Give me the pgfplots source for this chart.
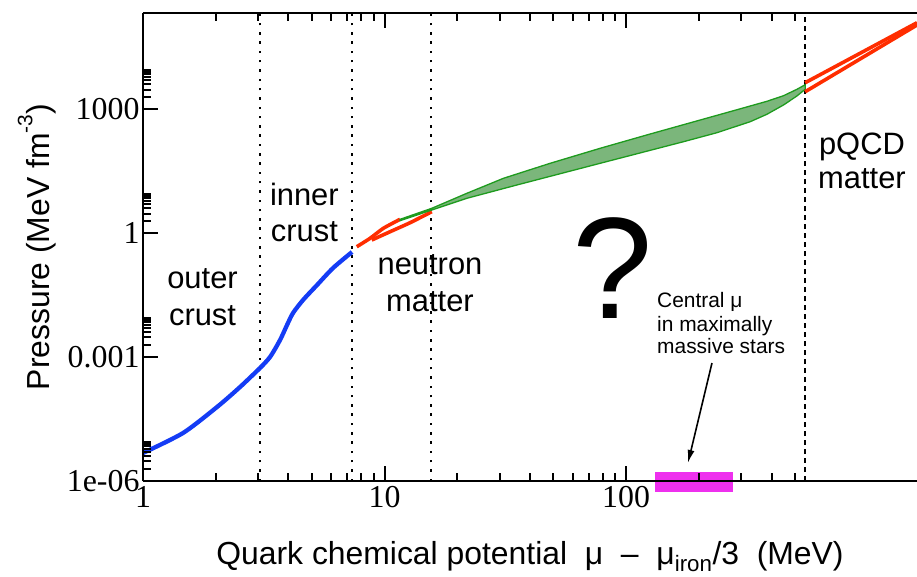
\documentclass[border=0pt]{standalone}
\usepackage{fontspec}
\setmainfont{Liberation Sans}
\newfontfamily\seriffont{Liberation Serif}
\usepackage{pgfplots}
\pgfplotsset{compat=1.18}
\usetikzlibrary{arrows.meta}
\definecolor{cblue}{RGB}{20,60,245}
\definecolor{cred}{RGB}{255,45,0}
\definecolor{gfill}{RGB}{123,182,123}
\definecolor{gedge}{RGB}{30,155,30}
\definecolor{cmag}{RGB}{238,48,238}
\newcommand{\regionfont}{\fontsize{31}{36}\selectfont}
\newcommand{\labfont}{\fontsize{32}{36}\selectfont}
\begin{document}
\begin{tikzpicture}
\begin{axis}[
  xmode=log, ymode=log,
  scale only axis, width=774bp, height=468bp,
  xmin=1, xmax=1600, ymin=1e-6, ymax=2.15e5,
  axis on top, clip=false,
  separate axis lines,
  axis x line=box, axis y line=left,
  x axis line style={-}, y axis line style={-},
  axis line style={line width=2.5bp},
  tick align=inside,
  xtick={1,10,100}, xticklabels={1,10,100},
  minor xtick={2,3,4,5,6,7,8,9,20,30,40,50,60,70,80,90,200,300,400,500},
  ytick={1e-6,1e-3,1,1000}, yticklabels={1e-06,0.001,1,1000},
  minor ytick={2e-6,3e-6,4e-6,5e-6,6e-6,7e-6,8e-6,9e-6,
               2e-3,3e-3,4e-3,5e-3,6e-3,7e-3,8e-3,9e-3,
               2,3,4,5,6,7,8,9,
               2000,3000,4000,5000,6000,7000,8000,9000},
  major tick length=15bp, minor tick length=8bp,
  every tick/.style={black, line width=2bp},
  tick label style={font=\seriffont\fontsize{32}{32}\selectfont},
  xticklabel style={yshift=-1.5bp},
  /pgf/number format/assume math mode=true,
]
\coordinate (SW) at (rel axis cs:0,0);
\coordinate (NE) at (rel axis cs:1,1);

% region boundaries
\draw[black, line width=2.5bp, dash pattern=on 2.5bp off 6.8bp] (axis cs:3.051,1e-6) -- (axis cs:3.051,2.15e5);
\draw[black, line width=2.5bp, dash pattern=on 2.5bp off 6.8bp] (axis cs:7.335,1e-6) -- (axis cs:7.335,2.15e5);
\draw[black, line width=2.5bp, dash pattern=on 2.5bp off 6.8bp] (axis cs:15.58,1e-6) -- (axis cs:15.58,2.15e5);
\draw[black, line width=2.5bp, dash pattern=on 5bp off 4bp] (axis cs:551,1e-6) -- (axis cs:551,2.15e5);

% crust (blue)
\addplot[cblue, line width=4.3bp, smooth, tension=0.45, line join=round] coordinates {
(1,4.77e-6) (1.464,1.452e-5) (2.025,6.19e-5) (2.522,1.888e-4) (3.051,5.44e-4)};
\addplot[cblue, line width=4.3bp, smooth, tension=0.45, line join=round] coordinates {
(3.051,5.44e-4) (3.357,1.005e-3) (3.693,2.594e-3) (3.947,5.98e-3) (4.179,1.17e-2) (4.598,2.415e-2)
(5.254,5.57e-2) (6.119,0.1435) (7.335,0.3508)};

% neutron matter (red)
\addplot[cred, line width=3.6bp, smooth, tension=0.4] coordinates {
(7.672,0.471) (8.71,0.753) (9.886,1.315) (11.59,2.171)};
\addplot[cred, line width=3.6bp, smooth, tension=0.4] coordinates {
(8.85,0.684) (10.54,1.087) (12.75,1.795) (15.68,3.319)};

% interpolated band (green)
\addplot[fill=gfill, draw=gedge, line width=1.3bp, line join=round] coordinates {
(11.59,2.171) (15.68,4.009) (21.90,9.25) (31.04,21.35) (48.44,49.26) (78.03,113.7)
(125.7,252.3) (202.5,550.7) (278.1,924.9) (382.4,1562) (448.0,2133) (509.1,3051) (551.0,3940)
(551.0,3051) (509.1,2099) (448.0,1271) (382.4,756.8) (326.2,501.0) (237.5,271.3) (172.7,164.3) (78.03,49.26)
(35.27,14.69) (21.90,7.0) (15.68,3.645) (11.59,2.008)} -- cycle;

% pQCD (red)
\addplot[cred, line width=3.6bp] coordinates {(551,4406) (1600,1.25e5)};
\addplot[cred, line width=3.6bp] coordinates {(551,2667) (1600,1.099e5)};

% central mu range
\addplot[fill=cmag, draw=none] coordinates {
(131.8,5.42e-7) (277.3,5.42e-7) (277.3,1.652e-6) (131.8,1.652e-6)} -- cycle;

% labels
\node[anchor=base, font=\regionfont] at (rel axis cs:0.0769,0.4103) {outer};
\node[anchor=base, font=\regionfont] at (rel axis cs:0.0769,0.3323) {crust};
\node[anchor=base, font=\regionfont] at (rel axis cs:0.2085,0.5897) {inner};
\node[anchor=base, font=\regionfont] at (rel axis cs:0.2085,0.5118) {crust};
\node[anchor=base, font=\regionfont] at (rel axis cs:0.3708,0.4423) {neutron};
\node[anchor=base, font=\regionfont] at (rel axis cs:0.3708,0.3632) {matter};
\node[anchor=base, font=\regionfont] at (rel axis cs:0.9289,0.6987) {pQCD};
\node[anchor=base, font=\regionfont] at (rel axis cs:0.9289,0.6250) {matter};
\node[anchor=base, font=\fontsize{145}{145}\selectfont] at (rel axis cs:0.6072,0.3483) {?};
\node[anchor=base west, font=\fontsize{21}{22}\selectfont, inner sep=0pt] at (rel axis cs:0.6641,0.3697) {Central μ};
\node[anchor=base west, font=\fontsize{21}{22}\selectfont, inner sep=0pt] at (rel axis cs:0.6641,0.3194) {in maximally};
\node[anchor=base west, font=\fontsize{21}{22}\selectfont, inner sep=0pt] at (rel axis cs:0.6641,0.2735) {massive stars};
\draw[line width=1.6bp, -{Latex[length=13bp,width=7bp]}] (rel axis cs:0.7351,0.2521) -- (rel axis cs:0.7041,0.0385);

% axis titles
\node[anchor=base, font=\labfont] at ([yshift=-83bp]rel axis cs:0.5,0)
  {Quark chemical potential\ \ μ\ \ –\ \ μ\textsubscript{iron}/3\ \ (MeV)};
\node[anchor=base, rotate=90, font=\labfont] at ([xshift=-93bp]rel axis cs:0,0.5)
  {Pressure (MeV fm\raisebox{0.55em}{\fontsize{21}{21}\selectfont -3})};
\end{axis}
\pgfresetboundingbox
\path ([shift={(-143bp,-96bp)}]SW) rectangle ([shift={(0bp,13bp)}]NE);
\end{tikzpicture}
\end{document}
